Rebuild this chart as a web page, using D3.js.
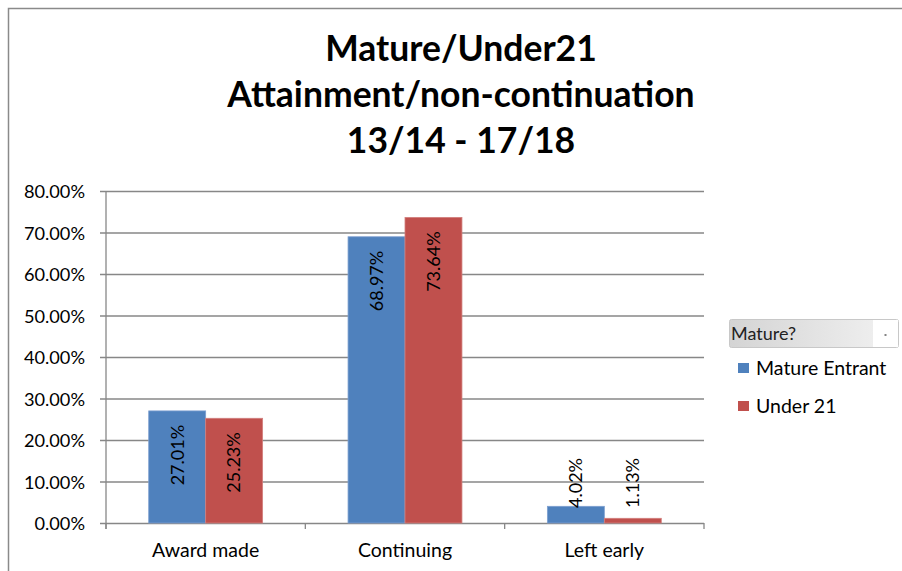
<!DOCTYPE html>
<html>
<head>
<meta charset="utf-8">
<script src="https://cdn.jsdelivr.net/npm/d3@7"></script>
<style>
  html, body { margin: 0; padding: 0; background: #fff; }
  svg { display: block; font-family: Lato, "Open Sans", sans-serif; }
</style>
</head>
<body>
<svg id="chart" width="902" height="571"></svg>
<script>
const titleLines = ["Mature/Under21", "Attainment/non-continuation", "13/14 - 17/18"];
const categories = ["Award made", "Continuing", "Left early"];
const seriesNames = ["Mature Entrant", "Under 21"];
const matureValues = [27.01, 68.97, 4.02];
const under21Values = [25.23, 73.64, 1.13];
const yTicks = [0, 10, 20, 30, 40, 50, 60, 70, 80];
const legendTitle = "Mature?";
const colors = ["#4f81bd", "#c0504d"];
const borderColors = ["#7d9fd0", "#d27f7d"];

const svg = d3.select("#chart");
const plot = { left: 106, right: 704, top: 191, bottom: 523 };

// frame
svg.append("path")
  .attr("d", "M8.5,571 L8.5,8.5 L902,8.5")
  .attr("fill", "none").attr("stroke", "#8a8a8a").attr("stroke-width", 1.5);

// title
svg.append("g").selectAll("text").data(titleLines).join("text")
  .attr("x", 461).attr("y", (d, i) => 61 + i * 46.2)
  .attr("text-anchor", "middle")
  .attr("font-weight", "bold").attr("font-size", 35.5)
  .attr("fill", "#000").text(d => d);

const x = d3.scaleBand().domain(categories).range([plot.left, plot.right]).padding(0);
const bw = x.bandwidth();
const gap = bw * 0.75 / 3.5;
const x1 = d3.scaleBand().domain(seriesNames).range([gap, bw - gap]).padding(0);
const y = d3.scaleLinear().domain([0, 80]).range([plot.bottom, plot.top]);

// y axis with gridlines
const yAxis = d3.axisLeft(y).tickValues(yTicks)
  .tickSize(-(plot.right - plot.left + 6)).tickPadding(15)
  .tickFormat(d => d.toFixed(2) + "%");
const yg = svg.append("g").attr("transform", `translate(${plot.left - 6},0)`).call(yAxis);
yg.select(".domain").remove();
yg.selectAll(".tick line").attr("stroke", "#878787").attr("stroke-width", 1.3);
yg.selectAll(".tick text").attr("font-size", 18.2).attr("fill", "#000")
  .attr("font-family", "Lato, sans-serif").attr("dy", "0.36em");

// y axis line
svg.append("line")
  .attr("x1", plot.left).attr("x2", plot.left)
  .attr("y1", plot.top).attr("y2", plot.bottom + 6)
  .attr("stroke", "#878787").attr("stroke-width", 1.3);

// x category boundary ticks
const bounds = categories.map(c => x(c)).concat([x(categories[categories.length - 1]) + bw]);
svg.append("g").selectAll("line").data(bounds).join("line")
  .attr("x1", d => d).attr("x2", d => d)
  .attr("y1", plot.bottom).attr("y2", plot.bottom + 6)
  .attr("stroke", "#878787").attr("stroke-width", 1.3);

// x axis labels
const xAxis = d3.axisBottom(x).tickSize(0).tickPadding(0);
const xg = svg.append("g").attr("transform", `translate(0,${plot.bottom})`).call(xAxis);
xg.select(".domain").remove();
xg.selectAll(".tick text").attr("font-size", 19.5).attr("fill", "#000")
  .attr("font-family", "Lato, sans-serif").attr("dy", 0).attr("y", 34);

// bars
const rows = categories.map((c, i) => ({ cat: c, vals: [matureValues[i], under21Values[i]] }));
const groups = svg.append("g").selectAll("g").data(rows).join("g")
  .attr("transform", d => `translate(${x(d.cat)},0)`);

const cells = groups.selectAll("g").data(d => d.vals.map((v, k) => ({ v, k, s: seriesNames[k] }))).join("g");
cells.append("rect")
  .attr("x", d => x1(d.s)).attr("width", x1.bandwidth())
  .attr("y", d => y(d.v)).attr("height", d => y(0) - y(d.v))
  .attr("fill", d => colors[d.k])
  .attr("stroke", d => borderColors[d.k]).attr("stroke-width", 0.8);

// data labels (rotated)
cells.append("text")
  .attr("transform", d => {
    const cx = x1(d.s) + x1.bandwidth() / 2;
    const inside = (y(0) - y(d.v)) > 80;
    const start = Math.min(y(d.v) + 2, y(0) - 15);
    return inside
      ? `translate(${cx},${y(d.v) + 14}) rotate(-90)`
      : `translate(${cx},${start}) rotate(-90)`;
  })
  .attr("text-anchor", d => (y(0) - y(d.v)) > 80 ? "end" : "start")
  .attr("dy", "0.35em")
  .attr("font-size", 18).attr("fill", "#000")
  .text(d => d.v.toFixed(2) + "%");

// legend
const defs = svg.append("defs");
const grad = defs.append("linearGradient").attr("id", "lg").attr("x1", 0).attr("x2", 1);
grad.append("stop").attr("offset", "0%").attr("stop-color", "#d4d4d4");
grad.append("stop").attr("offset", "100%").attr("stop-color", "#f2f2f2");
const lg = svg.append("g");
lg.append("rect").attr("x", 729.5).attr("y", 319.5).attr("width", 169).attr("height", 28)
  .attr("rx", 2).attr("fill", "url(#lg)").attr("stroke", "#c8c8c8");
lg.append("rect").attr("x", 873).attr("y", 320).attr("width", 25).attr("height", 27).attr("fill", "#fff");
lg.append("text").attr("x", 731).attr("y", 340).attr("font-size", 18).attr("fill", "#222").text(legendTitle);
lg.append("line").attr("x1", 884.5).attr("x2", 886.5).attr("y1", 335).attr("y2", 335)
  .attr("stroke", "#333").attr("stroke-width", 1.2);

const items = lg.selectAll("g.item").data(seriesNames).join("g").attr("class", "item")
  .attr("transform", (d, i) => `translate(738,${363 + i * 38})`);
items.append("rect").attr("width", 11).attr("height", 10).attr("fill", (d, i) => colors[i]);
items.append("text").attr("x", 18).attr("y", 11.5).attr("font-size", 19.5).attr("fill", "#000").text(d => d);
</script>
</body>
</html>
